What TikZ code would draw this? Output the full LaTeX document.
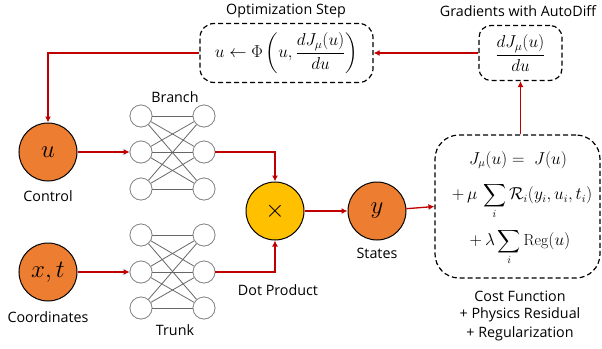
\documentclass[tikz,border=0pt]{standalone}
\usepackage{fontspec}
\usepackage{amsmath,amssymb}
\newfontfamily\labfont{Open Sans}
\usetikzlibrary{arrows.meta,calc}
\definecolor{arrred}{HTML}{C00000}
\definecolor{orng}{HTML}{ED7D31}
\definecolor{yell}{HTML}{FFC000}
\definecolor{nngray}{HTML}{666666}
\begin{document}
\begin{tikzpicture}[x=1pt,y=-1pt,
  lab/.style={font=\labfont\fontsize{14.3}{16}\selectfont, inner sep=0pt},
  conn/.style={draw=arrred, line width=1.3pt, -{Latex[length=6pt,width=6pt]}},
  bigc/.style={circle, draw=black, line width=1pt, minimum size=58pt, inner sep=0pt, font=\fontsize{25}{28}\selectfont},
  nn/.style={circle, draw=nngray!80, fill=white, line width=0.7pt, minimum size=22pt, inner sep=0pt},
  nnl/.style={draw=nngray, line width=0.8pt},
  dbox/.style={draw=black, dashed, dash pattern=on 5pt off 3pt, line width=1.2pt, rounded corners=#1, inner sep=0pt},
  fml/.style={inner sep=0pt, font=\fontsize{16}{18}\selectfont},
]
\useasboundingbox (0,0) rectangle (602,348);

% boxes
\node[dbox=14pt, minimum width=173pt, minimum height=59pt] (opt) at (286.5,53)
  {\fontsize{17}{19}\selectfont $u \leftarrow \Phi\left(u, \dfrac{dJ_\mu(u)}{du}\right)$};
\node[dbox=12pt, minimum width=83pt, minimum height=55pt] (grad) at (520.5,53)
  {\fontsize{17}{19}\selectfont $\dfrac{dJ_\mu(u)}{du}$};
\node[dbox=24pt, minimum width=165pt, minimum height=143pt] (cost) at (517.5,206.5) {};
\node[fml] (f1) at (518,160) {$J_\mu(u) =\; J(u)$};
\node[fml] (f2) at (522,201) {$\displaystyle +\,\mu\,\sum_i \mathcal{R}_i(y_i,u_i,t_i)$};
\node[fml] (f3) at (520,247) {$\displaystyle +\,\lambda\sum_i \mathrm{Reg}(u)$};

\node[lab] (optl) at (286,11) {Optimization Step};
\node[lab] (gradl) at (518,11) {Gradients with AutoDiff};

% circles
\node[bigc, fill=orng] (u) at (48,152) {$u$};
\node[bigc, fill=orng] (c) at (48,272) {$x,t$};
\node[bigc, fill=yell] (m) at (275,211) {$\times$};
\node[bigc, fill=orng] (y) at (377,211) {$y$};

\node[lab] (ul) at (48,196) {Control};
\node[lab] (cl) at (48,317) {Coordinates};
\node[lab] (ml) at (278,290) {Dot Product};
\node[lab] (yl) at (377,253) {States};
\node[lab] (cost1) at (520,296) {Cost Function};
\node[lab] (cost2) at (520,315) {+ Physics Residual};
\node[lab] (cost3) at (520,334) {+ Regularization};

% branch net
\foreach \i/\yy in {1/116,2/152,3/189}{
  \node[nn] (bl\i) at (141,\yy) {};
  \node[nn] (br\i) at (204,\yy) {};
}
\foreach \i in {1,2,3}{\foreach \j in {1,2,3}{\draw[nnl] (bl\i) -- (br\j);}}
\foreach \i in {1,2,3}{\node[nn] at (bl\i) {}; \node[nn] at (br\i) {};}
\node[lab] (bll) at (175,97) {Branch};

% trunk net
\foreach \i/\yy in {1/235,2/272,3/308}{
  \node[nn] (tl\i) at (141,\yy) {};
  \node[nn] (tr\i) at (204,\yy) {};
}
\foreach \i in {1,2,3}{\foreach \j in {1,2,3}{\draw[nnl] (tl\i) -- (tr\j);}}
\foreach \i in {1,2,3}{\node[nn] at (tl\i) {}; \node[nn] at (tr\i) {};}
\node[lab] (tll) at (175,330) {Trunk};

% connectors
\draw[conn] (u.east) -- (bl2.west);
\draw[conn] (c.east) -- (tl2.west);
\draw[conn] (br2.east) -| (m.north);
\draw[conn] (tr2.east) -| (m.south);
\draw[conn] (m) -- (y);
\draw[conn] (y) -- (cost.west);
\draw[conn] (grad.south |- cost.north) -- (grad.south);
\draw[conn] (grad.west) -- (opt.east);
\draw[conn] (opt.west) -| (u.north);
\end{tikzpicture}
\end{document}
